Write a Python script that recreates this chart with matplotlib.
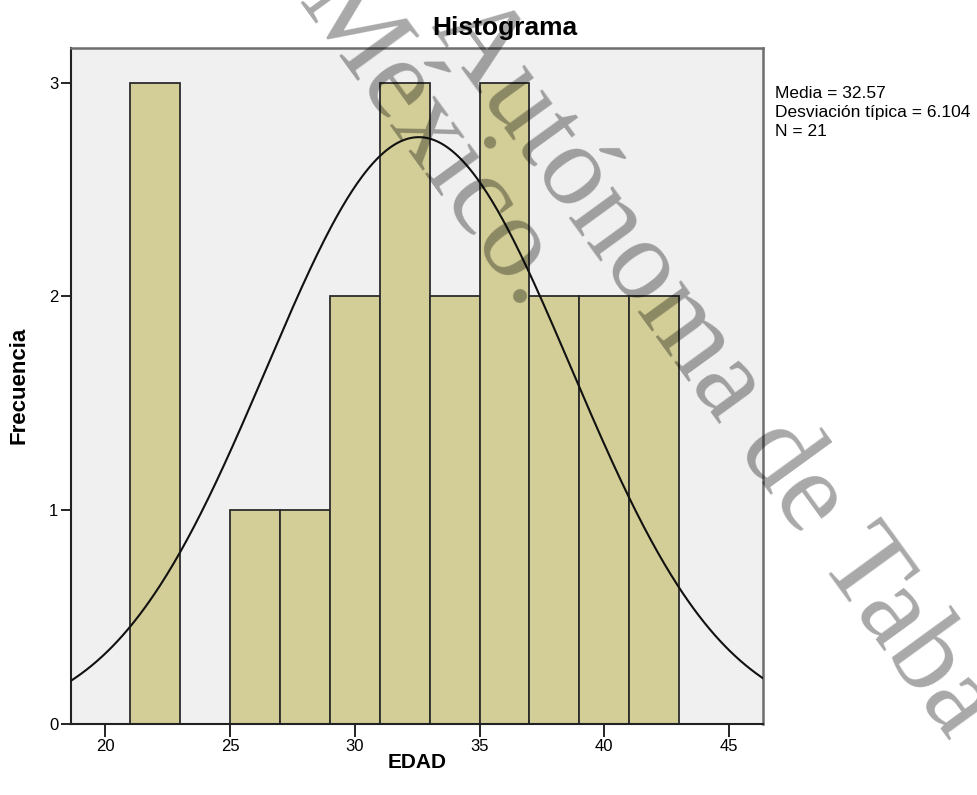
#Histogram of EDAD with normal curve (SPSS style)
import numpy as np
import matplotlib
matplotlib.use('Agg')
import matplotlib.pyplot as plt

#Data
bin_edges = [21, 23, 25, 27, 29, 31, 33, 35, 37, 39, 41, 43]
counts = [3, 0, 1, 1, 2, 3, 2, 3, 2, 2, 2]
media = 32.57
desv = 6.104
n = 21
x_ticks = [20, 25, 30, 35, 40, 45]
y_ticks = [0, 1, 2, 3]

W, H = 977, 795
fig = plt.figure(figsize=(W / 100, H / 100), dpi=100)
plt.rcParams['font.family'] = ['Liberation Sans', 'DejaVu Sans']

#Axes box in pixel units
left, right, top, bottom = 71, 763, 48, 724
ax = fig.add_axes([left / W, 1 - bottom / H, (right - left) / W, (bottom - top) / H])
ax.set_facecolor('#F0F0F0')

widths = np.diff(bin_edges)
ax.bar(bin_edges[:-1], counts, width=widths, align='edge',
       color='#D3CE97', edgecolor='#2b2b2b', linewidth=1.3, zorder=2)

#Normal curve scaled to counts
xlim = (18.63, 46.36)
xs = np.linspace(xlim[0], xlim[1], 400)
bw = widths[0]
ys = n * bw * np.exp(-0.5 * ((xs - media) / desv) ** 2) / (desv * np.sqrt(2 * np.pi))
ax.plot(xs, ys, color='#111111', linewidth=1.5, zorder=3)

ax.set_xlim(*xlim)
ax.set_ylim(0, 3.162)
ax.set_xticks(x_ticks)
ax.set_yticks(y_ticks)
ax.tick_params(axis='x', length=9, width=1.2, direction='out', labelsize=12, pad=2)
ax.tick_params(axis='y', length=7, width=1.2, direction='out', labelsize=12, pad=2)
for s in ['left', 'bottom']:
    ax.spines[s].set_color('#222222')
    ax.spines[s].set_linewidth(1.5)
for s in ['top', 'right']:
    ax.spines[s].set_color('#6e6e6e')
    ax.spines[s].set_linewidth(1.8)

#Titles and labels
fig.text(505 / W, 1 - 28 / H, 'Histograma', ha='center', va='center',
         fontsize=19, fontweight='bold')
fig.text(417 / W, 1 - 763 / H, 'EDAD', ha='center', va='center',
         fontsize=15, fontweight='bold')
fig.text(19 / W, 1 - 385 / H, 'Frecuencia', ha='center', va='center',
         rotation=90, fontsize=16, fontweight='bold')

#Stats box
stats = ['Media = %.2f' % media, 'Desviación típica = %.3f' % desv, 'N = %d' % n]
for i, s in enumerate(stats):
    fig.text(775 / W, 1 - (98 + 19 * i) / H, s, ha='left', va='baseline', fontsize=12.5)

#Watermark
wm = dict(ha='left', va='baseline', rotation=-54, rotation_mode='anchor',
          fontsize=84, family='Liberation Serif', color='black', alpha=0.34, zorder=10)
fig.text(430 / W, 1 - 26 / H, 'Autónoma de Taba', **wm)
fig.text(296 / W, 1 - 2 / H, 'México.', **wm)

fig.savefig('out.png', dpi=100)
